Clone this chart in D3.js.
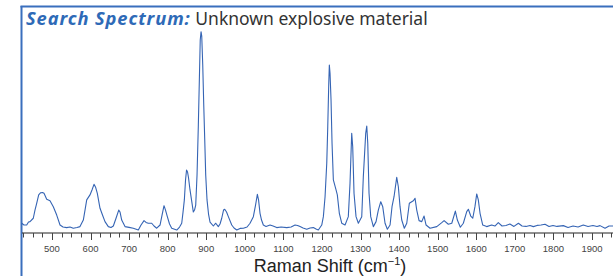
<!DOCTYPE html>
<html>
<head>
<meta charset="utf-8">
<script src="https://cdn.jsdelivr.net/npm/d3@7"></script>
<style>
  body { margin: 0; background: #fff; }
  svg { display: block; }
</style>
</head>
<body>
<div></div>
<script>
// spectrum: Raman shift (cm-1) and relative intensity
var shifts = [421.6, 427.5, 434.5, 439.2, 443.1, 451.6, 456.0, 460.4, 465.6, 470.8,
  475.5, 479.4, 486.4, 494.9, 503.5, 512.3, 520.9, 528.7, 538.2, 546.8,
  555.3, 564.9, 572.7, 581.3, 585.7, 590.1, 598.6, 603.8, 609.0, 612.9,
  617.6, 624.6, 631.0, 637.5, 646.1, 653.1, 659.1, 666.1, 673.1, 676.5,
  680.8, 689.4, 699.8, 710.9, 723.9, 730.9, 738.7, 743.9, 749.8, 758.6,
  764.6, 771.6, 780.2, 785.4, 790.5, 794.4, 799.1, 804.8, 810.5, 823.5,
  830.8, 836.4, 839.8, 843.2, 846.3, 848.9, 851.5, 854.1, 857.9, 861.8,
  866.5, 869.6, 872.7, 876.1, 879.5, 882.1, 884.4, 886.5, 888.3, 890.9,
  893.5, 896.1, 898.6, 902.0, 905.9, 909.8, 918.4, 924.6, 931.3, 935.7,
  940.1, 944.8, 947.9, 952.6, 957.3, 966.1, 972.0, 979.0, 987.6, 996.2,
  1005.8, 1013.5, 1022.1, 1027.8, 1032.5, 1035.6, 1039.4, 1043.3, 1048.0, 1055.0,
  1065.4, 1073.2, 1082.7, 1094.1, 1108.7, 1120.0, 1130.2, 1136.7, 1143.2, 1151.0,
  1160.5, 1169.1, 1177.6, 1184.6, 1190.6, 1199.4, 1203.6, 1208.0, 1212.4, 1215.0,
  1217.6, 1219.1, 1220.9, 1223.5, 1226.1, 1229.5, 1236.5, 1239.8, 1245.0, 1251.2,
  1259.8, 1268.3, 1272.7, 1277.1, 1279.7, 1283.1, 1288.3, 1294.3, 1303.1, 1307.2,
  1313.4, 1316.1, 1318.7, 1322.0, 1326.4, 1333.2, 1340.2, 1346.1, 1352.4, 1357.5,
  1363.5, 1369.5, 1376.5, 1381.6, 1386.8, 1393.8, 1398.0, 1402.4, 1406.8, 1413.5,
  1419.8, 1426.5, 1432.7, 1436.9, 1441.3, 1445.7, 1451.7, 1458.7, 1464.7, 1469.9,
  1480.2, 1497.6, 1510.6, 1516.6, 1527.6, 1536.5, 1545.8, 1551.0, 1558.7, 1566.5,
  1575.3, 1579.5, 1585.7, 1590.9, 1596.6, 1601.2, 1605.3, 1609.8, 1616.8, 1627.0,
  1639.9, 1648.4, 1657.1, 1666.7, 1677.0, 1687.3, 1697.7, 1709.2, 1718.6, 1729.0,
  1739.3, 1748.0, 1757.6, 1767.8, 1778.3, 1788.6, 1799.0, 1809.3, 1825.8, 1837.9,
  1850.9, 1863.9, 1877.5, 1889.7, 1902.6, 1913.0, 1920.8, 1933.8, 1944.2, 1954.5];

var intensities = [3.9, 3.0, 3.0, 4.5, 4.7, 6.4, 10.5, 13.9, 18.1, 19.2,
  19.3, 18.9, 15.9, 15.2, 12.2, 8.0, 3.0, 2.0, 1.7, 2.0,
  1.4, 1.8, 2.2, 5.5, 10.5, 15.6, 18.1, 20.6, 23.4, 22.1,
  18.9, 11.4, 8.0, 4.7, 2.2, 1.8, 2.5, 6.4, 10.5, 9.5,
  5.5, 2.2, 1.8, 1.4, 0.5, 3.0, 5.2, 4.3, 3.9, 3.9,
  2.5, 1.4, 3.0, 8.0, 12.7, 10.5, 7.2, 3.5, 1.4, 0.5,
  2.0, 3.9, 9.5, 15.6, 25.6, 30.6, 29.6, 26.6, 20.6, 15.6,
  9.5, 10.5, 13.0, 28.1, 53.2, 75.8, 95.8, 100, 97.8, 83.3,
  63.2, 45.7, 28.1, 15.6, 8.5, 4.5, 2.5, 3.9, 2.2, 3.5,
  6.4, 10.5, 10.9, 9.5, 7.2, 3.0, 1.5, 0.5, 1.3, 1.4,
  2.0, 3.9, 7.2, 13.0, 18.4, 15.6, 8.9, 5.5, 3.0, 2.3,
  3.0, 2.5, 1.7, 2.0, 1.7, 2.0, 3.0, 2.8, 2.2, 1.5,
  0.9, 1.5, 1.7, 1.0, 0.5, 3.0, 7.2, 17.2, 34.0, 52.3,
  74.1, 83.3, 79.1, 65.7, 44.0, 25.6, 20.6, 18.1, 8.9, 3.9,
  3.0, 7.2, 23.9, 49.0, 42.3, 18.9, 7.2, 3.9, 7.2, 27.2,
  49.0, 52.7, 44.0, 18.9, 7.2, 2.2, 4.7, 10.5, 14.7, 12.2,
  3.9, 0.9, 3.0, 12.2, 17.2, 26.9, 22.2, 12.2, 5.5, 1.4,
  3.9, 13.9, 14.7, 15.2, 16.4, 10.5, 5.2, 4.7, 7.5, 3.0,
  1.4, 2.2, 4.2, 5.2, 3.4, 3.9, 10.0, 5.5, 1.9, 3.9,
  9.7, 10.9, 7.5, 6.4, 12.2, 18.6, 15.6, 8.9, 3.0, 2.2,
  3.0, 2.5, 4.2, 2.5, 2.8, 3.5, 2.3, 3.9, 2.5, 2.3,
  2.8, 2.2, 2.8, 3.0, 3.4, 2.3, 2.8, 2.3, 2.7, 1.8,
  2.5, 2.0, 3.0, 2.3, 2.8, 2.3, 2.7, 1.4, 2.5, 2.5];

var tickValues = d3.range(425, 1951, 25);
var labelValues = [500, 600, 700, 800, 900, 1000, 1100, 1200, 1300, 1400, 1500, 1600, 1700, 1800, 1900];

var width = 613, height = 276;

var svg = d3.select("div").append("svg")
    .attr("width", width)
    .attr("height", height);

var x = d3.scaleLinear().domain([420, 1955]).range([21.1, 613.2]);
var y = d3.scaleLinear().domain([0, 100]).range([231, 31.7]);

// frame, blue left and top edge
svg.append("line")
    .attr("x1", 21.5).attr("y1", 6).attr("x2", 21.5).attr("y2", height)
    .attr("stroke", "#3a6fbd").attr("stroke-width", 2);
svg.append("line")
    .attr("x1", 20.5).attr("y1", 6.5).attr("x2", width).attr("y2", 6.5)
    .attr("stroke", "#3a6fbd").attr("stroke-width", 2);

// title
var title = svg.append("text")
    .attr("x", 26)
    .attr("y", 25)
    .attr("font-family", "'Noto Sans', 'Open Sans', sans-serif")
    .attr("font-size", 17.5);
title.append("tspan")
    .attr("font-weight", "bold")
    .attr("font-style", "italic")
    .attr("font-size", 18.3)
    .attr("letter-spacing", 0.9)
    .attr("fill", "#2e6ab7")
    .text("Search Spectrum:");
title.append("tspan")
    .attr("fill", "#333")
    .text(" Unknown explosive material");

// x axis
svg.append("line")
    .attr("x1", 22).attr("x2", width)
    .attr("y1", 233).attr("y2", 233)
    .attr("stroke", "#222").attr("stroke-width", 1);

svg.selectAll(".tick")
    .data(tickValues)
    .enter()
    .append("line")
    .attr("class", "tick")
    .attr("x1", function(d) { return Math.round(x(d)) + 0.5; })
    .attr("x2", function(d) { return Math.round(x(d)) + 0.5; })
    .attr("y1", 233)
    .attr("y2", function(d) {
        if (d % 100 === 0) {
            return 240;
        } else {
            return 237.5;
        }
    })
    .attr("stroke", "#444")
    .attr("stroke-width", 1);

svg.selectAll(".ticklabel")
    .data(labelValues)
    .enter()
    .append("text")
    .attr("class", "ticklabel")
    .attr("x", function(d) { return x(d); })
    .attr("y", 252)
    .attr("text-anchor", "middle")
    .attr("font-family", "'Liberation Sans', Arial, sans-serif")
    .attr("font-size", 9.5)
    .attr("fill", "#444")
    .text(function(d) { return d; });

var xtitle = svg.append("text")
    .attr("x", 330)
    .attr("y", 272)
    .attr("text-anchor", "middle")
    .attr("font-family", "'Liberation Sans', Arial, sans-serif")
    .attr("font-size", 18)
    .attr("fill", "#222");
xtitle.append("tspan").text("Raman Shift (cm");
xtitle.append("tspan")
    .attr("font-size", 11)
    .attr("dy", -7)
    .text("\u22121");
xtitle.append("tspan")
    .attr("dy", 7)
    .text(")");

// spectrum
var points = shifts.map(function(s, i) { return [s, intensities[i]]; });

var line = d3.line()
    .x(function(d) { return x(d[0]); })
    .y(function(d) { return y(d[1]); });

svg.append("path")
    .datum(points)
    .attr("d", line)
    .attr("fill", "none")
    .attr("stroke", "#3564b4")
    .attr("stroke-width", 1.1)
    .attr("stroke-linejoin", "round");
</script>
</body>
</html>
